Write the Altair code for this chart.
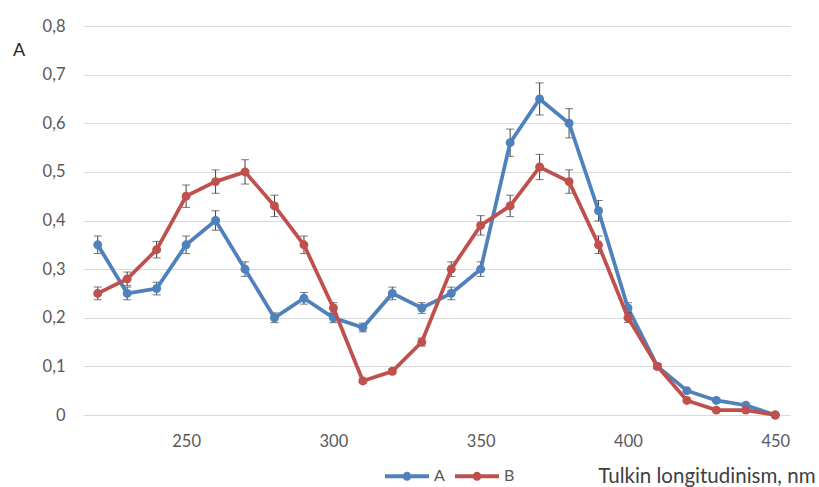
import altair as alt
import pandas as pd

wavelength = [220, 230, 240, 250, 260, 270, 280, 290, 300, 310, 320, 330,
              340, 350, 360, 370, 380, 390, 400, 410, 420, 430, 440, 450]
series_a = [0.35, 0.25, 0.26, 0.35, 0.40, 0.30, 0.20, 0.24, 0.20, 0.18, 0.25, 0.22,
            0.25, 0.30, 0.56, 0.65, 0.60, 0.42, 0.22, 0.10, 0.05, 0.03, 0.02, 0.00]
series_b = [0.25, 0.28, 0.34, 0.45, 0.48, 0.50, 0.43, 0.35, 0.22, 0.07, 0.09, 0.15,
            0.30, 0.39, 0.43, 0.51, 0.48, 0.35, 0.20, 0.10, 0.03, 0.01, 0.01, 0.00]
err_a = [0.018, 0.013, 0.013, 0.018, 0.020, 0.015, 0.010, 0.012, 0.010, 0.009, 0.013, 0.011,
         0.013, 0.015, 0.028, 0.033, 0.030, 0.021, 0.011, 0.005, 0.003, 0.002, 0.001, 0.000]
err_b = [0.013, 0.014, 0.017, 0.023, 0.024, 0.025, 0.022, 0.018, 0.011, 0.004, 0.005, 0.008,
         0.015, 0.020, 0.022, 0.026, 0.024, 0.018, 0.010, 0.005, 0.002, 0.001, 0.001, 0.000]
series_names = ["A", "B"]
series_colors = ["#4F81BD", "#C0504D"]
x_ticks = [250, 300, 350, 400, 450]
y_ticks = [0, 0.1, 0.2, 0.3, 0.4, 0.5, 0.6, 0.7, 0.8]

rows = []
for name, vals, errs in ((series_names[0], series_a, err_a), (series_names[1], series_b, err_b)):
    for w, v, e in zip(wavelength, vals, errs):
        rows.append({"wl": w, "val": v, "lo": v - e, "hi": v + e, "series": name})
df = pd.DataFrame(rows)

FONT = "Lato"
LBL = "#595959"

xscale = alt.Scale(domain=[215, 455], nice=False, zero=False)
yscale = alt.Scale(domain=[0, 0.8], nice=False)
cscale = alt.Scale(domain=series_names, range=series_colors)

x_axis = alt.Axis(values=x_ticks, grid=False, domain=False, ticks=False,
                  labelFontSize=16.5, labelColor=LBL, labelFont=FONT, labelPadding=18,
                  title="Tulkin longitudinism, nm", titleX=732, titleY=67,
                  titleAlign="right", titleBaseline="alphabetic", titleFontSize=20.5,
                  titleFont=FONT, titleFontWeight="normal", titleColor="#404040")
y_axis = alt.Axis(values=y_ticks, grid=True, gridColor="#D9D9D9", gridWidth=1,
                  domain=False, ticks=False,
                  labelExpr="datum.value == 0 ? '0' : replace(format(datum.value, '.1f'), '.', ',')",
                  labelFontSize=16.5, labelColor=LBL, labelFont=FONT, labelPadding=18,
                  title="A", titleAngle=0, titleX=-64.5, titleY=29, titleAlign="center",
                  titleBaseline="alphabetic", titleFontSize=18, titleFont=FONT,
                  titleFontWeight="normal", titleColor="#262626")

legend = alt.Legend(orient="none", legendX=300, legendY=426, direction="horizontal",
                    title=None,
                    symbolType="M-1,0L1,0M0.11,0A0.11,0.11,0,1,1,-0.11,0A0.11,0.11,0,1,1,0.11,0Z",
                    symbolSize=1936, symbolStrokeWidth=4,
                    labelFontSize=16, labelColor=LBL, labelFont=FONT,
                    labelOffset=3, columnPadding=2)

X = lambda f: alt.X(f, scale=xscale, axis=x_axis)
Y = lambda f: alt.Y(f, scale=yscale, axis=y_axis)

base = alt.Chart(df)

layers = []
for i, name in enumerate(series_names):
    sub = base.transform_filter(alt.datum.series == name)
    err = sub.mark_rule(color="#404040", strokeWidth=1).encode(
        x=X("wl:Q"), y=Y("lo:Q"), y2="hi:Q")
    cap_lo = sub.mark_tick(color="#404040", thickness=1, size=8, orient="horizontal").encode(
        x=X("wl:Q"), y=Y("lo:Q"))
    cap_hi = sub.mark_tick(color="#404040", thickness=1, size=8, orient="horizontal").encode(
        x=X("wl:Q"), y=Y("hi:Q"))
    line = sub.mark_line(strokeWidth=3.75).encode(
        x=X("wl:Q"), y=Y("val:Q"),
        color=alt.Color("series:N", scale=cscale, legend=legend),
    )
    pts = sub.mark_circle(size=80, opacity=1).encode(
        x=X("wl:Q"), y=Y("val:Q"),
        color=alt.Color("series:N", scale=cscale, legend=legend),
    )
    layers += [err, cap_lo, cap_hi, line, pts]

chart = alt.layer(*layers).properties(
    width=707, height=389,
    autosize=alt.AutoSizeParams(type="none"),
    padding={"left": 83, "top": 26, "right": 29, "bottom": 72},
    background="white",
).configure_view(stroke=None)

chart.save("out.html", embed_options={"renderer": "svg", "actions": False})
